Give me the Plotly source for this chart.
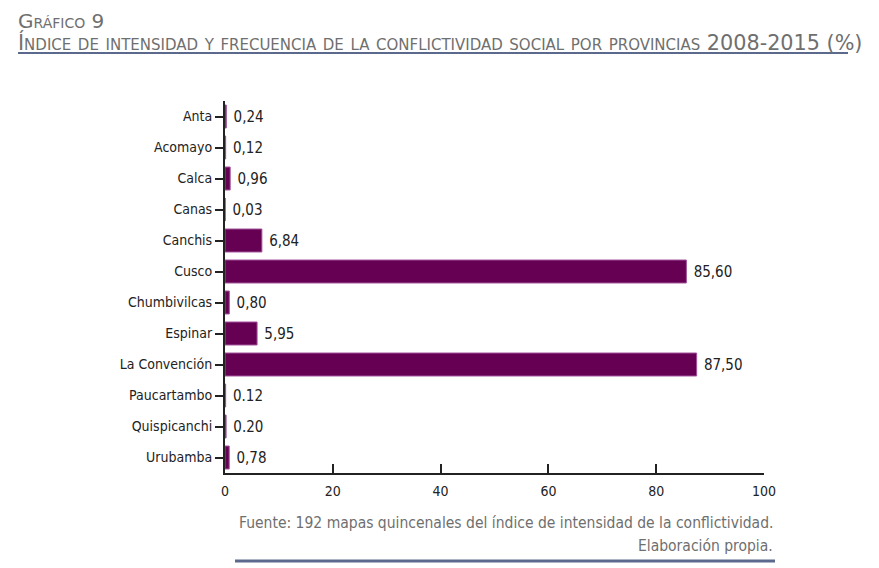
import plotly.graph_objects as go

provincias = ["Anta", "Acomayo", "Calca", "Canas", "Canchis", "Cusco", "Chumbivilcas",
              "Espinar", "La Convención", "Paucartambo", "Quispicanchi", "Urubamba"]
valores = [0.24, 0.12, 0.96, 0.03, 6.84, 85.60, 0.80, 5.95, 87.50, 0.12, 0.20, 0.78]
etiquetas = ["0,24", "0,12", "0,96", "0,03", "6,84", "85,60", "0,80", "5,95", "87,50",
             "0.12", "0.20", "0,78"]
x_ticks = [0, 20, 40, 60, 80, 100]

FONT = "DejaVu Sans Condensed, Liberation Sans Narrow, Arial Narrow, Liberation Sans, sans-serif"
TFONT = "DejaVu Sans, Liberation Sans, sans-serif"

# page body has an 8px margin: draw the figure 8px smaller and shift coordinates
OFF = 8
W, H = 879 - OFF, 568 - OFF
L, R, T, B = 225 - OFF, W - (764 - OFF), 101 - OFF, H - (473 - OFF)
PW, PH = W - L - R, H - T - B


def px(xr):
    return (xr - OFF - L) / PW


def py(yr):
    return 1 - (yr - OFF - T) / PH


fig = go.Figure(go.Bar(
    x=valores, y=provincias, orientation="h",
    text=etiquetas, texttemplate=" %{text}", textposition="outside", cliponaxis=False,
    textfont=dict(family=FONT, size=15, color="#222"),
    marker=dict(color="#650052", line=dict(color="#a0509a", width=1)),
    width=0.74,
))

fig.update_layout(
    width=W, height=H,
    margin=dict(l=L, r=R, t=T, b=B),
    paper_bgcolor="white", plot_bgcolor="white",
    showlegend=False,
    font=dict(family=FONT, color="#222"),
    xaxis=dict(range=[0, 100], tickvals=x_ticks, ticks="inside", ticklen=9,
               tickwidth=2, tickcolor="#222", showline=True, linewidth=2,
               linecolor="#222", showgrid=False, zeroline=False, ticklabelstandoff=4,
               tickfont=dict(family=FONT, size=14, color="#222")),
    yaxis=dict(categoryorder="array", categoryarray=provincias, autorange="reversed",
               ticks="outside", ticklen=8, tickwidth=2, tickcolor="#222",
               showline=True, linewidth=2, linecolor="#222", showgrid=False,
               tickfont=dict(family=FONT, size=14, color="#222")),
)

anns = [
    dict(text="Gráfico 9", xr=17, yr=8, size=20, xanchor="left", yanchor="top", fam=TFONT),
    dict(text="Índice de intensidad y frecuencia de la conflictividad social por provincias 2008-2015 (%)",
         xr=17, yr=56, size=20.75, xanchor="left", yanchor="bottom", fam=TFONT),
    dict(text="Fuente: 192 mapas quincenales del índice de intensidad de la conflictividad.",
         xr=774, yr=523, size=15.5, xanchor="right", variant="normal"),
    dict(text="Elaboración propia.", xr=774, yr=546, size=15.5, xanchor="right", variant="normal"),
]
out = []
for a in anns:
    out.append(dict(
        text=a["text"], showarrow=False, xref="paper", yref="paper",
        x=px(a["xr"]), y=py(a["yr"]), borderpad=0,
        xanchor=a["xanchor"], yanchor=a.get("yanchor", "middle"),
        font=dict(family=a.get("fam", FONT), size=a["size"], color="#6f6f6f",
                  variant=a.get("variant", "small-caps")),
    ))

fig.update_layout(
    annotations=out,
    shapes=[
        dict(type="line", xref="paper", yref="paper",
             x0=px(18), x1=px(848), y0=py(53), y1=py(53),
             line=dict(color="#5b6a8c", width=2)),
        dict(type="line", xref="paper", yref="paper",
             x0=px(235), x1=px(775), y0=py(561), y1=py(561),
             line=dict(color="#5b6a8c", width=3)),
    ],
)

fig.write_html("out.html")
